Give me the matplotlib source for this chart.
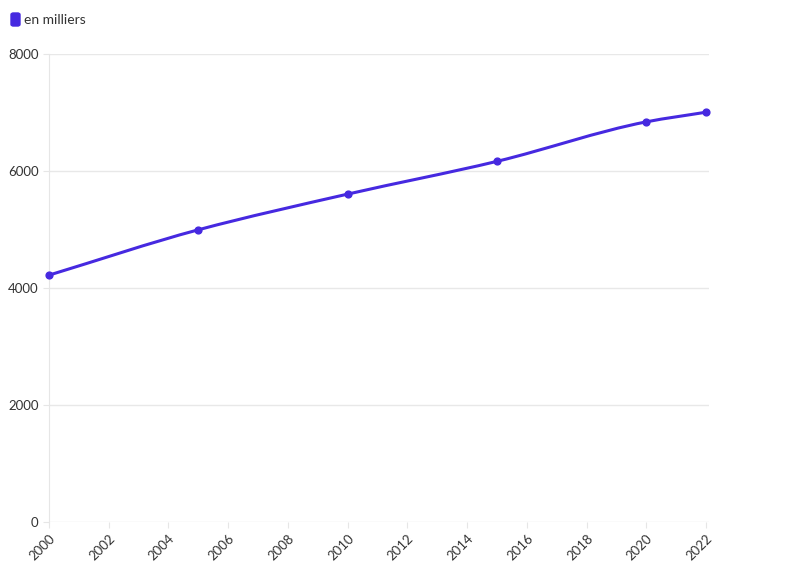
import numpy as np
import matplotlib
matplotlib.use("Agg")
import matplotlib.pyplot as plt
from matplotlib.path import Path
from matplotlib.patches import PathPatch, FancyBboxPatch

# Données
annees = [2000, 2005, 2010, 2015, 2020, 2022]
valeurs = [4220, 4995, 5605, 6165, 6840, 7005]
serie = "en milliers"
couleur = "#4629e0"

plt.rcParams["font.family"] = ["Lato", "DejaVu Sans"]

fig = plt.figure(figsize=(7.96, 5.75), dpi=100)
ax = fig.add_axes([49 / 796, 53 / 575, 660 / 796, 468 / 575])

# Courbe lissée (monotone) tracée en Bézier par matplotlib
x = np.array(annees, dtype=float)
y = np.array(valeurs, dtype=float)
h = np.diff(x)
d = np.diff(y) / h
m = np.zeros_like(y)
m[0], m[-1] = d[0], d[-1]
for i in range(1, len(x) - 1):
    if d[i - 1] * d[i] > 0:
        w1 = 2 * h[i] + h[i - 1]
        w2 = h[i] + 2 * h[i - 1]
        m[i] = (w1 + w2) / (w1 / d[i - 1] + w2 / d[i])
verts = [(x[0], y[0])]
codes = [Path.MOVETO]
for i in range(len(x) - 1):
    verts += [(x[i] + h[i] / 3, y[i] + m[i] * h[i] / 3),
              (x[i + 1] - h[i] / 3, y[i + 1] - m[i + 1] * h[i] / 3),
              (x[i + 1], y[i + 1])]
    codes += [Path.CURVE4] * 3
ax.add_patch(PathPatch(Path(verts, codes), facecolor="none", edgecolor=couleur,
                       lw=2.2, capstyle="round", zorder=3, clip_on=False))
ax.scatter(annees, valeurs, s=24, color=couleur, zorder=4, clip_on=False)

ax.set_xlim(2000, 2022.1)
ax.set_ylim(0, 8000)
ax.set_xticks(range(2000, 2023, 2))
ax.set_yticks([0, 2000, 4000, 6000, 8000])
ax.tick_params(axis="x", labelrotation=45, labelsize=9.5, colors="#333333",
               length=4, color="#e6e6e6")
ax.tick_params(axis="y", labelsize=9.5, colors="#333333", length=4, color="#e6e6e6")
for lab in ax.get_xticklabels():
    lab.set_ha("right")
    lab.set_rotation_mode("anchor")
ax.grid(axis="y", color="#e8e8e8", lw=1)
ax.set_axisbelow(True)
for s in ["top", "right", "bottom"]:
    ax.spines[s].set_visible(False)
ax.spines["left"].set_color("#e6e6e6")

# Légende
fig.patches.append(FancyBboxPatch((11 / 796, 1 - 26 / 575), 9 / 796, 13 / 575,
                                  boxstyle="round,pad=0,rounding_size=0.003",
                                  transform=fig.transFigure, color=couleur))
fig.text(24 / 796, 1 - 20 / 575, serie, fontsize=10, color="#333333", va="center")

fig.savefig("out.png", dpi=100)
